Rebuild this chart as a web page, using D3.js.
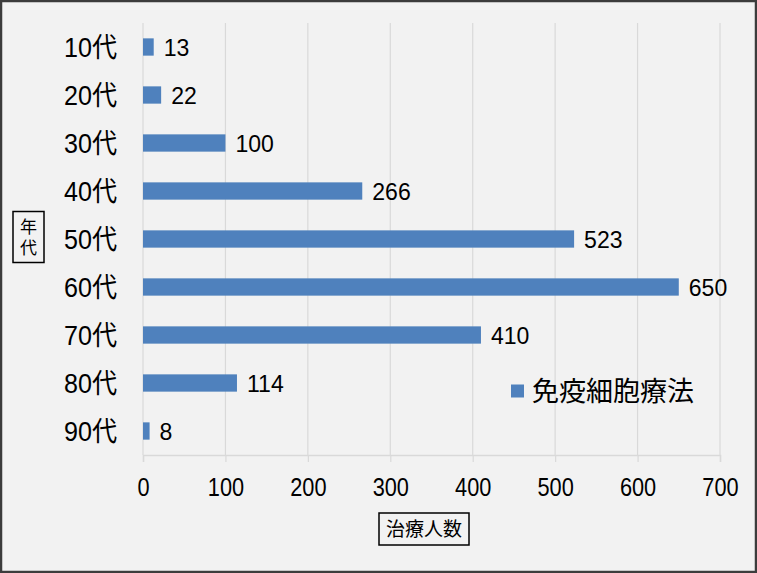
<!DOCTYPE html>
<html>
<head>
<meta charset="utf-8">
<script src="https://cdn.jsdelivr.net/npm/d3@7"></script>
<style>
  body { margin: 0; background: #fff; }
  svg { display: block; }
  text { font-family: "Liberation Sans", "Noto Sans CJK JP", sans-serif; fill: #000; }
  .cjk { font-family: "Noto Sans CJK JP", sans-serif; }
</style>
</head>
<body>
<svg id="chart" width="757" height="573"></svg>
<script>
// Data
const categories = ["10代", "20代", "30代", "40代", "50代", "60代", "70代", "80代", "90代"];
const values = [13, 22, 100, 266, 523, 650, 410, 114, 8];
const xTicks = [0, 100, 200, 300, 400, 500, 600, 700];
const seriesName = "免疫細胞療法";
const xTitle = "治療人数";
const yTitle = "年代";

const width = 757, height = 573;
const margin = { left: 143, right: 37, top: 23, bottom: 118 };
const drawWidth = width - margin.left - margin.right;
const drawHeight = height - margin.top - margin.bottom;
const barColor = "#4f81bd";

const svg = d3.select("#chart");

// Background and frame
svg.append("rect")
    .attr("x", 1).attr("y", 1)
    .attr("width", width - 2).attr("height", height - 2)
    .attr("fill", "#f2f2f2")
    .attr("stroke", "#3c3c3c")
    .attr("stroke-width", 2.5);

// Scales
const xScale = d3.scaleLinear().domain([0, 700]).range([0, drawWidth]);
const yScale = d3.scaleBand().domain(categories).range([0, drawHeight]).paddingInner(0.64).paddingOuter(0.32);

const g = svg.append("g").attr("transform", `translate(${margin.left},${margin.top})`);

// Gridlines
g.selectAll(".grid").data(xTicks).enter().append("line")
    .attr("class", "grid")
    .attr("x1", (d) => xScale(d)).attr("x2", (d) => xScale(d))
    .attr("y1", 0).attr("y2", drawHeight)
    .attr("stroke", "#d9d9d9")
    .attr("stroke-width", 1.2);

// Bottom axis
const xAxis = g.append("g")
    .attr("transform", `translate(0,${drawHeight})`)
    .call(d3.axisBottom(xScale).tickValues(xTicks).tickSize(7).tickPadding(16).tickFormat(d3.format("d")));
xAxis.select(".domain").attr("stroke", "#d9d9d9").attr("stroke-width", 1.5);
xAxis.selectAll(".tick line").attr("stroke", "#d9d9d9").attr("stroke-width", 1.2);
xAxis.selectAll(".tick text")
    .attr("font-size", 25)
    .attr("fill", "#000")
    .attr("transform", "scale(0.87,1)")
    .style("font-family", "'Liberation Sans', sans-serif");

// Category labels
g.selectAll(".cat").data(categories).enter().append("text")
    .attr("class", "cat")
    .attr("transform", (d) => `translate(-26,${yScale(d) + yScale.bandwidth() / 2}) scale(0.93,1)`)
    .attr("dy", "0.36em")
    .attr("text-anchor", "end")
    .attr("font-size", 27)
    .text((d) => d);

// Bars
g.selectAll(".bar").data(values).enter().append("rect")
    .attr("class", "bar")
    .attr("x", 0)
    .attr("y", (d, i) => yScale(categories[i]))
    .attr("width", (d) => xScale(d))
    .attr("height", yScale.bandwidth())
    .attr("fill", barColor);

// Value labels
g.selectAll(".val").data(values).enter().append("text")
    .attr("class", "val")
    .attr("transform", (d, i) => `translate(${xScale(d) + 10},${yScale(categories[i]) + yScale.bandwidth() / 2}) scale(0.96,1)`)
    .attr("dy", "0.36em")
    .attr("font-size", 24)
    .text((d) => d);

// X title box
const xt = svg.append("g").attr("transform", "translate(424,529)");
xt.append("rect").attr("x", -45).attr("y", -16).attr("width", 90).attr("height", 32)
    .attr("fill", "none").attr("stroke", "#000").attr("stroke-width", 1.5);
xt.append("text").attr("class", "cjk").attr("text-anchor", "middle").attr("dy", "0.36em")
    .attr("font-size", 19).text(xTitle);

// Y title box (vertical text)
const yt = svg.append("g").attr("transform", "translate(28.5,237.5)");
yt.append("rect").attr("x", -15.5).attr("y", -26).attr("width", 31).attr("height", 51)
    .attr("fill", "none").attr("stroke", "#000").attr("stroke-width", 1.5);
yt.append("text")
    .attr("class", "cjk")
    .attr("text-anchor", "middle")
    .style("writing-mode", "vertical-rl")
    .style("letter-spacing", "4px")
    .attr("x", 0).attr("y", 2)
    .attr("font-size", 17)
    .text(yTitle);

// Legend
const lg = svg.append("g").attr("transform", "translate(511,391)");
lg.append("rect").attr("x", 0).attr("y", -6.5).attr("width", 13).attr("height", 13).attr("fill", barColor);
lg.append("text").attr("class", "cjk").attr("x", 21).attr("dy", "0.38em")
    .attr("font-size", 27).text(seriesName);
</script>
</body>
</html>
